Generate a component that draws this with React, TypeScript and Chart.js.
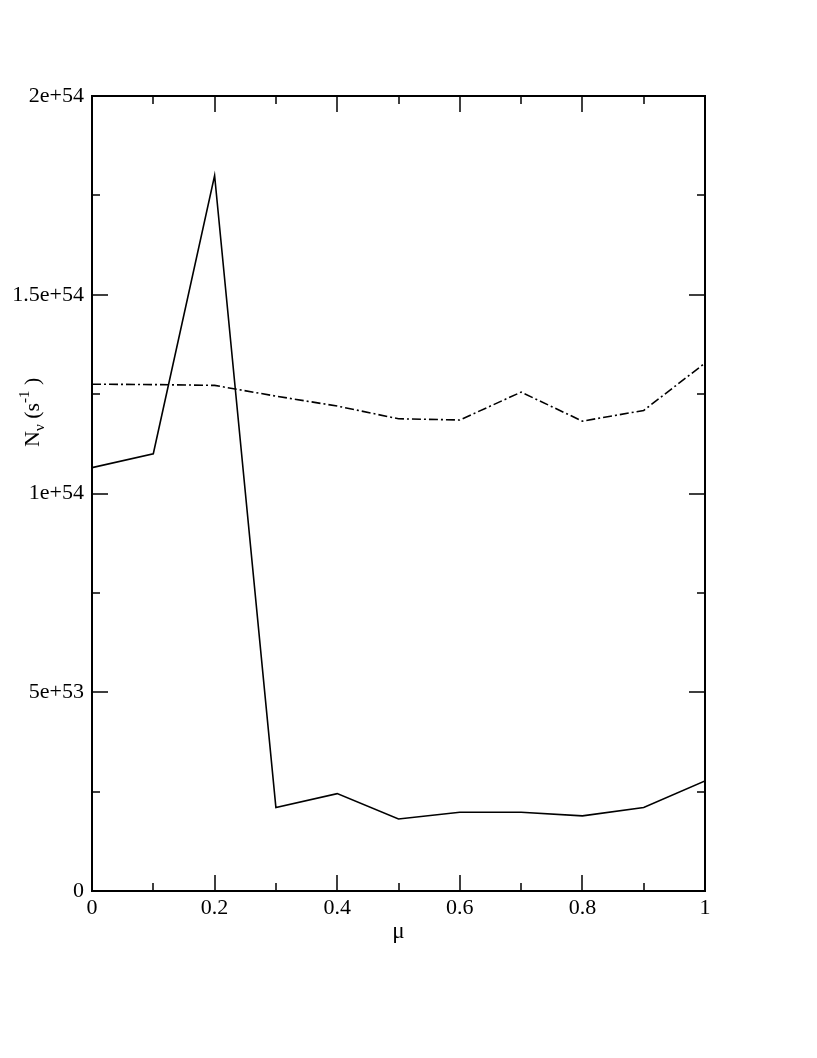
import React, { useEffect, useRef } from "react";
import { Chart, registerables } from "chart.js";

Chart.register(...registerables);

const muValues = [0, 0.1, 0.2, 0.3, 0.4, 0.5, 0.6, 0.7, 0.8, 0.9, 1.0];
const solidValues = [1.065e54, 1.1e54, 1.8e54, 2.1e53, 2.45e53, 1.81e53, 1.98e53, 1.98e53, 1.89e53, 2.1e53, 2.77e53];
const dashDotValues = [1.275e54, 1.274e54, 1.272e54, 1.245e54, 1.22e54, 1.188e54, 1.185e54, 1.255e54, 1.182e54, 1.209e54, 1.328e54];

const xTickValues = [0, 0.2, 0.4, 0.6, 0.8, 1.0];
const xTickLabels = ["0", "0.2", "0.4", "0.6", "0.8", "1"];
const xMinorTicks = [0.1, 0.3, 0.5, 0.7, 0.9];
const yTickValues = [0, 5e53, 1e54, 1.5e54, 2e54];
const yTickLabels = ["0", "5e+53", "1e+54", "1.5e+54", "2e+54"];
const yMinorTicks = [2.5e53, 7.5e53, 1.25e54, 1.75e54];

const xTitle = "μ";
const yTitleMain = "N";
const yTitleSub = "ν";
const yTitleMid = " (s";
const yTitleSup = "-1";
const yTitleEnd = " )";

const FONT = "'Liberation Serif', 'Times New Roman', serif";

const framePlugin = {
  id: "framePlugin",
  afterDatasetsDraw(chart: any) {
    const { ctx, chartArea, scales } = chart;
    const { left, right, top, bottom } = chartArea;
    const xs = scales.x;
    const ys = scales.y;
    ctx.save();
    ctx.strokeStyle = "#000";
    ctx.lineWidth = 2;
    ctx.strokeRect(left, top, right - left, bottom - top);
    ctx.lineWidth = 1.5;
    const major = 16;
    const minor = 8;
    ctx.beginPath();
    const xt = (v: number, len: number) => {
      const px = Math.round(xs.getPixelForValue(v));
      ctx.moveTo(px, bottom);
      ctx.lineTo(px, bottom - len);
      ctx.moveTo(px, top);
      ctx.lineTo(px, top + len);
    };
    const yt = (v: number, len: number) => {
      const py = Math.round(ys.getPixelForValue(v));
      ctx.moveTo(left, py);
      ctx.lineTo(left + len, py);
      ctx.moveTo(right, py);
      ctx.lineTo(right - len, py);
    };
    xTickValues.forEach((v) => xt(v, major));
    xMinorTicks.forEach((v) => xt(v, minor));
    yTickValues.forEach((v) => yt(v, major));
    yMinorTicks.forEach((v) => yt(v, minor));
    ctx.stroke();

    // x title
    ctx.fillStyle = "#000";
    ctx.font = `23px ${FONT}`;
    ctx.textAlign = "center";
    ctx.textBaseline = "alphabetic";
    ctx.fillText(xTitle, (left + right) / 2, 938);

    // y title (rotated, with subscript and superscript)
    ctx.translate(39, 447);
    ctx.rotate(-Math.PI / 2);
    ctx.textAlign = "left";
    let x = 0;
    ctx.font = `22px ${FONT}`;
    ctx.fillText(yTitleMain, x, 0);
    x += ctx.measureText(yTitleMain).width;
    ctx.font = `15px ${FONT}`;
    ctx.fillText(yTitleSub, x, 5);
    x += ctx.measureText(yTitleSub).width;
    ctx.font = `22px ${FONT}`;
    ctx.fillText(yTitleMid, x, 0);
    x += ctx.measureText(yTitleMid).width;
    ctx.font = `15px ${FONT}`;
    ctx.fillText(yTitleSup, x, -10);
    x += ctx.measureText(yTitleSup).width;
    ctx.font = `22px ${FONT}`;
    ctx.fillText(yTitleEnd, x, 0);
    ctx.restore();
  },
};

export default function App() {
  const canvasRef = useRef<HTMLCanvasElement | null>(null);

  useEffect(() => {
    const canvas = canvasRef.current;
    if (!canvas) return;
    const chart = new Chart(canvas, {
      type: "line",
      data: {
        datasets: [
          {
            label: "solid",
            data: muValues.map((m, i) => ({ x: m, y: solidValues[i] })),
            borderColor: "#000",
            borderWidth: 1.6,
            pointRadius: 0,
            tension: 0,
            fill: false,
          },
          {
            label: "dash-dot",
            data: muValues.map((m, i) => ({ x: m, y: dashDotValues[i] })),
            borderColor: "#000",
            borderWidth: 1.6,
            borderDash: [9, 3, 2, 3],
            pointRadius: 0,
            tension: 0,
            fill: false,
          },
        ],
      },
      options: {
        responsive: false,
        animation: false,
        devicePixelRatio: 1,
        layout: { padding: { left: 0, top: 96, right: 112, bottom: 107 } },
        plugins: {
          legend: { display: false },
          tooltip: { enabled: false },
          title: { display: false },
        },
        scales: {
          x: {
            type: "linear",
            min: 0,
            max: 1,
            afterBuildTicks: (s: any) => {
              s.ticks = xTickValues.map((v) => ({ value: v }));
            },
            afterFit: (s: any) => {
              s.height = 60;
            },
            ticks: {
              autoSkip: false,
              maxRotation: 0,
              padding: 4,
              color: "#000",
              font: { family: FONT, size: 22 },
              callback: (_v: any, i: number) => xTickLabels[i],
            },
            grid: { display: false, drawTicks: false },
            border: { display: false },
          },
          y: {
            type: "linear",
            min: 0,
            max: 2e54,
            afterBuildTicks: (s: any) => {
              s.ticks = yTickValues.map((v) => ({ value: v }));
            },
            afterFit: (s: any) => {
              s.width = 92;
            },
            ticks: {
              autoSkip: false,
              padding: 8,
              color: "#000",
              font: { family: FONT, size: 22 },
              callback: (_v: any, i: number) => yTickLabels[i],
            },
            grid: { display: false, drawTicks: false },
            border: { display: false },
          },
        },
      },
      plugins: [framePlugin],
    });
    return () => chart.destroy();
  }, []);

  return (
    <div style={{ position: "absolute", left: 0, top: 0, width: 817, height: 1058, background: "#fff" }}>
      <canvas ref={canvasRef} width={817} height={1058} style={{ width: 817, height: 1058, display: "block" }} />
    </div>
  );
}
